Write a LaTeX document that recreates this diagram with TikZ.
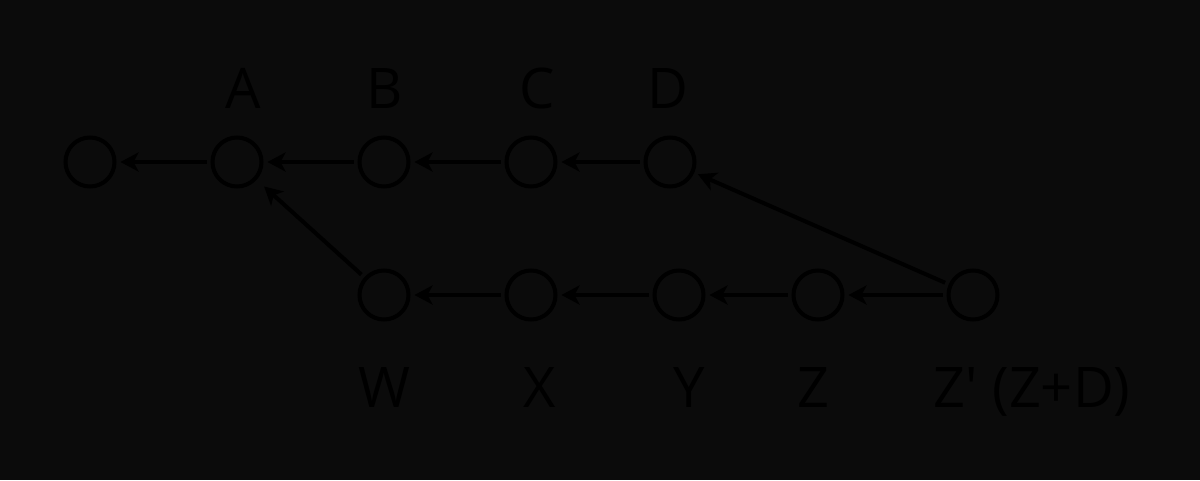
\documentclass[tikz,border=0pt]{standalone}
\usepackage{fontspec}
\setmainfont{Open Sans}
\usetikzlibrary{arrows.meta}
\definecolor{bg}{HTML}{0B0B0B}
\begin{document}
\begin{tikzpicture}[x=1pt,y=-1pt,
  commit/.style={circle,draw=black,line width=4pt,minimum size=49pt,inner sep=0pt,outer sep=6pt},
  lbl/.style={font=\fontsize{56}{64}\selectfont,text=black,inner sep=0pt,anchor=base},
  link/.style={draw=black,line width=4pt,-{Stealth[length=18pt,width=19pt,inset=5pt]}}]
\fill[bg] (0,0) rectangle (1200,480);
\useasboundingbox (0,0) rectangle (1200,480);
\node[commit] (o) at (90,162) {};
\node[commit] (a) at (237,162) {};
\node[commit] (b) at (384,162) {};
\node[commit] (c) at (531,162) {};
\node[commit] (d) at (670,162) {};
\node[commit] (w) at (384,295) {};
\node[commit] (x) at (531,295) {};
\node[commit] (y) at (679,295) {};
\node[commit] (z) at (818,295) {};
\node[commit] (zp) at (973,295) {};
\node[lbl] (la) at (243,108) {A};
\node[lbl] (lb) at (385,108) {B};
\node[lbl] (lc) at (537,108) {C};
\node[lbl] (ld) at (668,108) {D};
\node[lbl] (lw) at (384,407) {W};
\node[lbl] (lx) at (540,407) {X};
\node[lbl] (ly) at (689,407) {Y};
\node[lbl] (lz) at (813,407) {Z};
\node[lbl] (lzp) at (1032,407) {Z\textquotesingle{} (Z+D)};
\draw[link] (a) -- (o);
\draw[link] (b) -- (a);
\draw[link] (c) -- (b);
\draw[link] (d) -- (c);
\draw[link] (x) -- (w);
\draw[link] (y) -- (x);
\draw[link] (z) -- (y);
\draw[link] (zp) -- (z);
\draw[link,shorten >=6pt] (w) -- (a);
\draw[link] (zp) -- (d);
\end{tikzpicture}
\end{document}
